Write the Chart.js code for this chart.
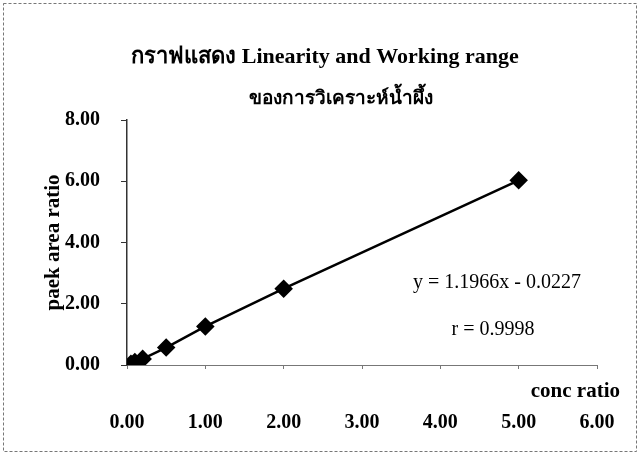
<!DOCTYPE html>
<html>
<head>
<meta charset="utf-8">
<script src="https://cdn.jsdelivr.net/npm/chart.js@4"></script>
<style>
  body { margin: 0; background: #fff; }
  #wrap { position: relative; width: 640px; height: 456px; }
</style>
</head>
<body>
<div id="wrap"><canvas id="grafico" width="640" height="456"></canvas></div>
<script>
// data
const concRatio = [0.05, 0.1, 0.2, 0.5, 1.0, 2.0, 5.0];
const areaRatio = [0.04, 0.1, 0.2, 0.57, 1.26, 2.49, 6.03];
const tituloLinha1 = "กราฟแสดง Linearity and Working range";
const tituloLinha2 = "ของการวิเคราะห์น้ำผึ้ง";
const textoEquacao = "y = 1.1966x - 0.0227";
const textoR = "r = 0.9998";

const fonte = "'Liberation Serif', 'Times New Roman', serif";

const pontos = concRatio.map((x, i) => ({ x: x, y: areaRatio[i] }));

// border, title and text annotations
const extras = {
  id: "extras",
  afterDraw(chart) {
    const ctx = chart.ctx;
    ctx.save();
    ctx.strokeStyle = "#777";
    ctx.lineWidth = 1;
    ctx.setLineDash([3, 2]);
    ctx.strokeRect(3.5, 3.5, 633, 448);
    ctx.setLineDash([]);
    ctx.fillStyle = "#000";
    ctx.textAlign = "center";
    ctx.textBaseline = "middle";
    ctx.font = "bold 22px " + fonte;
    ctx.fillText(tituloLinha1, 325, 57);
    ctx.font = "bold 19px " + fonte;
    ctx.fillText(tituloLinha2, 341, 99);
    ctx.font = "20px " + fonte;
    ctx.fillText(textoEquacao, 497, 283);
    ctx.fillText(textoR, 493, 330);
    ctx.font = "bold 21px " + fonte;
    ctx.textAlign = "right";
    ctx.fillText("conc ratio", 620, 392);
    ctx.restore();
  }
};

const ctx = document.getElementById("grafico").getContext("2d");
let myChart = new Chart(ctx, {
  type: "scatter",
  data: {
    datasets: [
      {
        label: "paek area ratio",
        data: pontos,
        showLine: true,
        borderColor: "#000",
        backgroundColor: "#000",
        borderWidth: 2.5,
        pointStyle: "rectRot",
        pointRadius: 7.5,
        pointHoverRadius: 7.5,
      },
    ],
  },
  options: {
    responsive: false,
    animation: false,
    layout: { padding: { left: 0, right: 43, top: 120, bottom: 0 } },
    plugins: {
      legend: { display: false },
      tooltip: { enabled: false },
    },
    scales: {
      x: {
        type: "linear",
        min: 0,
        max: 6,
        ticks: {
          stepSize: 1,
          color: "#000",
          padding: 42,
          font: { family: fonte, size: 20, weight: "bold" },
          callback: (v) => v.toFixed(2),
        },
        grid: { display: true, drawOnChartArea: false, tickLength: 4, color: "#777" },
        border: { color: "#777", dash: [4, 3] },
        afterFit: (scale) => {
          scale.height = 91;
          scale.paddingLeft = 20;
          scale.paddingRight = 20;
        },
      },
      y: {
        min: 0,
        max: 8,
        ticks: {
          stepSize: 2,
          color: "#000",
          padding: 21,
          font: { family: fonte, size: 20, weight: "bold" },
          callback: (v) => v.toFixed(2),
        },
        grid: { display: true, drawOnChartArea: false, tickLength: 6, color: "#333" },
        border: { color: "#333", width: 1.5 },
        title: {
          display: true,
          text: "paek area ratio",
          color: "#000",
          font: { family: fonte, size: 21, weight: "bold" },
          padding: { top: 41, bottom: 0 },
        },
        afterFit: (scale) => { scale.width = 127; },
      },
    },
  },
  plugins: [extras],
});
</script>
</body>
</html>
